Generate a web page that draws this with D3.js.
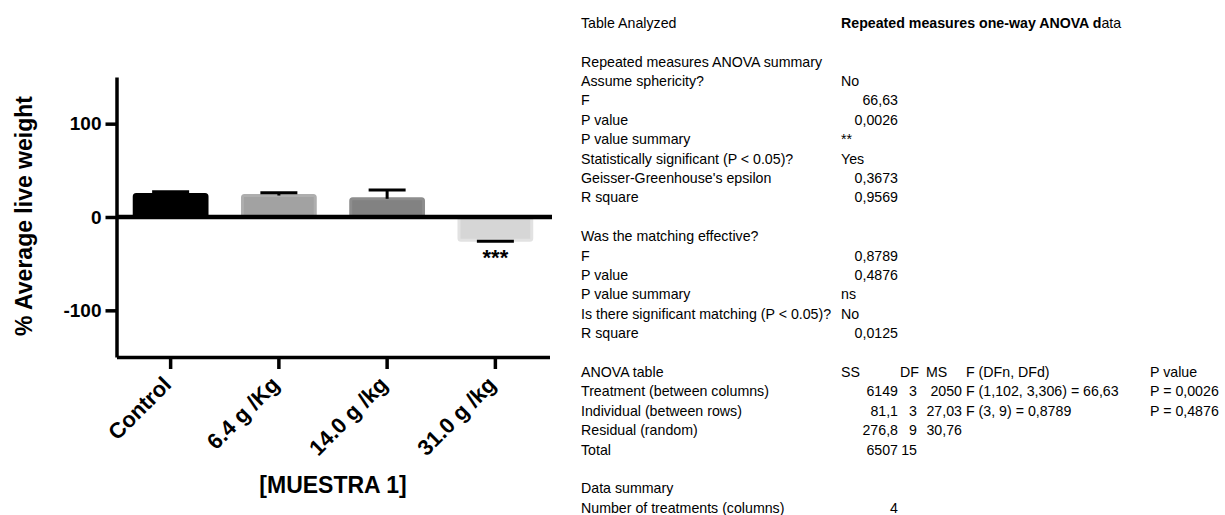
<!DOCTYPE html>
<html>
<head>
<meta charset="utf-8">
<script src="https://cdn.jsdelivr.net/npm/d3@7"></script>
<style>
  body { margin: 0; background: #fff; }
  svg { display: block; font-family: "Liberation Sans", Arial, sans-serif; }
  .tbl text { font-size: 14.2px; fill: #000; }
</style>
</head>
<body>
<svg id="chart" width="1225" height="515"></svg>
<script>
// bar chart data
const categories = ['Control', '6.4 g /Kg', '14.0 g /kg', '31.0 g /kg'];
const means = [24, 23, 19.5, -25];
const sems = [3, 3, 9.4, 1];
const stars = ['', '', '', '***'];
const yTicks = [-100, 0, 100];

// summary table text
const summaryLabels = [
    'Table Analyzed', '',
    'Repeated measures ANOVA summary', 'Assume sphericity?', 'F', 'P value', 'P value summary',
    'Statistically significant (P < 0.05)?', "Geisser-Greenhouse's epsilon", 'R square', '',
    'Was the matching effective?', 'F', 'P value', 'P value summary',
    'Is there significant matching (P < 0.05)?', 'R square'
];
const summaryValues = [
    '', '', '', 'No', '66,63', '0,0026', '**', 'Yes', '0,3673', '0,9569', '',
    '', '0,8789', '0,4876', 'ns', 'No', '0,0125'
];
const anovaHeader = ['ANOVA table', 'SS', 'DF', 'MS', 'F (DFn, DFd)', 'P value'];
const anovaRows = [
    ['Treatment (between columns)', '6149', '3', '2050', 'F (1,102, 3,306) = 66,63', 'P = 0,0026'],
    ['Individual (between rows)', '81,1', '3', '27,03', 'F (3, 9) = 0,8789', 'P = 0,4876'],
    ['Residual (random)', '276,8', '9', '30,76', '', ''],
    ['Total', '6507', '15', '', '', '']
];
const dataSummary = [['Data summary', ''], ['Number of treatments (columns)', '4']];

const barFill = ['#000000', '#a2a2a2', '#828282', '#d6d6d6'];
const barEdge = ['#000000', '#aeaeae', '#8d8d8d', '#e2e2e2'];

const svg = d3.select('#chart');

const x = d3.scaleBand()
    .domain(categories)
    .range([116.5, 549.5])
    .paddingInner(0.3)
    .paddingOuter(0.15);

const y = d3.scaleLinear()
    .domain([-150, 150])
    .range([357, 77]);

// bars
svg.append('g')
    .selectAll('rect')
    .data(means)
    .join('rect')
    .attr('x', (d, i) => x(categories[i]) + 1.5)
    .attr('width', x.bandwidth() - 3)
    .attr('y', d => Math.min(y(d), y(0)))
    .attr('height', d => Math.abs(y(d) - y(0)))
    .attr('rx', 2)
    .attr('fill', (d, i) => barFill[i])
    .attr('stroke', (d, i) => barEdge[i])
    .attr('stroke-width', 3);

// error bars (one sided, away from zero)
const capW = 37;
const err = svg.append('g').attr('stroke', '#000').attr('stroke-width', 3);
means.forEach((m, i) => {
    const cx = x(categories[i]) + x.bandwidth() / 2;
    const end = m + Math.sign(m) * sems[i];
    err.append('line')
        .attr('x1', cx).attr('x2', cx)
        .attr('y1', y(m)).attr('y2', y(end));
    err.append('line')
        .attr('x1', cx - capW / 2).attr('x2', cx + capW / 2)
        .attr('y1', y(end)).attr('y2', y(end));
});

// significance stars
svg.append('g')
    .selectAll('text')
    .data(stars)
    .join('text')
    .attr('x', (d, i) => x(categories[i]) + x.bandwidth() / 2)
    .attr('y', (d, i) => y(means[i] - sems[i]) + 24)
    .attr('text-anchor', 'middle')
    .attr('font-size', 22)
    .attr('font-weight', 'bold')
    .text(d => d);

// zero line
svg.append('line')
    .attr('x1', 116.5).attr('x2', 552)
    .attr('y1', y(0)).attr('y2', y(0))
    .attr('stroke', '#000')
    .attr('stroke-width', 4.5);

// y axis
const yAxis = svg.append('g')
    .attr('transform', 'translate(116.5,0)')
    .call(d3.axisLeft(y).tickValues(yTicks).tickFormat(d => String(d))
        .tickSize(11).tickSizeOuter(0).tickPadding(4));
yAxis.select('.domain').attr('stroke-width', 3.5);
yAxis.selectAll('.tick line').attr('stroke-width', 3.5);
yAxis.selectAll('.tick text')
    .attr('font-size', 19)
    .attr('font-weight', 'bold')
    .attr('font-family', '"Liberation Sans", Arial, sans-serif')
    .attr('fill', '#000');

// x axis
const xAxis = svg.append('g')
    .attr('transform', 'translate(0,357)')
    .call(d3.axisBottom(x).tickSize(12).tickSizeOuter(0));
xAxis.select('.domain').attr('stroke-width', 3.5);
xAxis.selectAll('.tick line').attr('stroke-width', 3.5);
xAxis.selectAll('.tick text')
    .attr('font-size', 22)
    .attr('font-weight', 'bold')
    .attr('font-family', '"Liberation Sans", Arial, sans-serif')
    .attr('fill', '#000')
    .attr('text-anchor', 'end')
    .attr('dy', null)
    .attr('y', 0)
    .attr('transform', 'translate(2,29) rotate(-45)');

// axis titles
svg.append('text')
    .attr('transform', 'translate(32,216) rotate(-90)')
    .attr('text-anchor', 'middle')
    .attr('font-size', 23)
    .attr('font-weight', 'bold')
    .text('% Average live weight');

svg.append('text')
    .attr('x', 333)
    .attr('y', 493)
    .attr('text-anchor', 'middle')
    .attr('font-size', 23)
    .attr('font-weight', 'bold')
    .text('[MUESTRA 1]');

// results table
const rowY = i => 27.7 + i * 19.4;
const tbl = svg.append('g').attr('class', 'tbl');

tbl.selectAll('text.lab')
    .data(summaryLabels)
    .join('text')
    .attr('class', 'lab')
    .attr('x', 581)
    .attr('y', (d, i) => rowY(i))
    .text(d => d);

const isNum = s => /^[0-9]/.test(s);
tbl.selectAll('text.val')
    .data(summaryValues)
    .join('text')
    .attr('class', 'val')
    .attr('x', d => isNum(d) ? 898 : 841)
    .attr('y', (d, i) => rowY(i))
    .attr('text-anchor', d => isNum(d) ? 'end' : 'start')
    .text(d => d);

const head = tbl.append('text').attr('x', 841).attr('y', rowY(0));
head.append('tspan').attr('font-weight', 'bold').text('Repeated measures one-way ANOVA d');
head.append('tspan').text('ata');

// anova table columns: [x, anchor]
const cols = [[581, 'start'], [898, 'end'], [917, 'end'], [962, 'end'], [966, 'start'], [1150, 'start']];
const headCols = [[581, 'start'], [841, 'start'], [900, 'start'], [926, 'start'], [966, 'start'], [1150, 'start']];

anovaHeader.forEach((t, j) => {
    tbl.append('text')
        .attr('x', headCols[j][0]).attr('y', rowY(18))
        .attr('text-anchor', headCols[j][1])
        .text(t);
});
anovaRows.forEach((row, i) => {
    row.forEach((t, j) => {
        tbl.append('text')
            .attr('x', cols[j][0]).attr('y', rowY(19 + i))
            .attr('text-anchor', cols[j][1])
            .text(t);
    });
});
dataSummary.forEach((row, i) => {
    tbl.append('text').attr('x', 581).attr('y', rowY(24 + i)).text(row[0]);
    tbl.append('text').attr('x', 898).attr('y', rowY(24 + i)).attr('text-anchor', 'end').text(row[1]);
});
</script>
</body>
</html>
